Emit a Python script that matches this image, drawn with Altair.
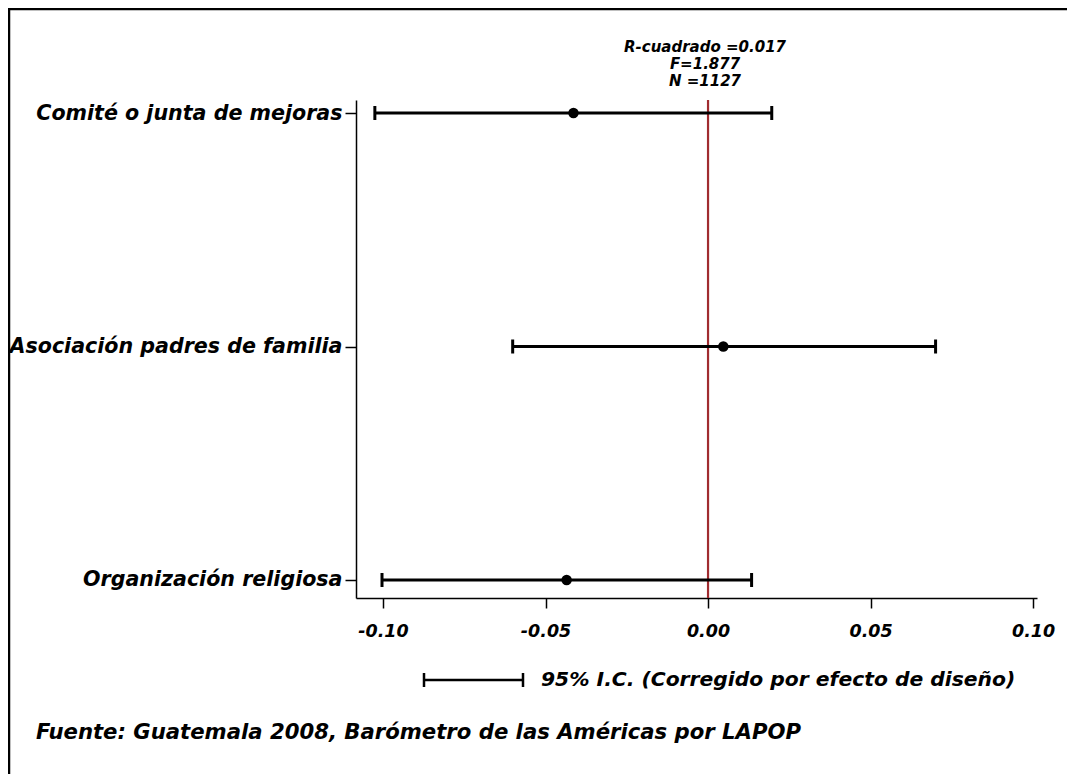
import altair as alt
import pandas as pd

# ---- data ----
categories = ["Comité o junta de mejoras", "Asociación padres de familia", "Organización religiosa"]
row_pos = [3, 2, 1]
coef = [-0.0414, 0.0047, -0.0435]
ci_low = [-0.1025, -0.0601, -0.1003]
ci_high = [0.0196, 0.0700, 0.0134]
x_ticks = [-0.10, -0.05, 0.00, 0.05, 0.10]
stats_lines = ["R-cuadrado =0.017", "F=1.877", "N =1127"]
legend_text = "95% I.C. (Corregido por efecto de diseño)"
source_text = "Fuente: Guatemala 2008, Barómetro de las Américas por LAPOP"

df = pd.DataFrame({"cat": categories, "pos": row_pos, "coef": coef, "lo": ci_low, "hi": ci_high})

FONT = "DejaVu Sans"
W, H = 681, 498
XDOM = [-0.1083, 0.1012]
YDOM = [0.9229, 3.0557]

label_expr = " : ".join(
    [f"datum.value == {p} ? '{c}'" for p, c in zip(row_pos, categories)]
) + " : ''"

xscale = alt.Scale(domain=XDOM, nice=False, zero=False)
yscale = alt.Scale(domain=YDOM, nice=False, zero=False)

xaxis = alt.Axis(
    values=x_ticks, title=None, grid=False,
    labelExpr="datum.value < 0 ? '-' + format(abs(datum.value), '.2f') : format(datum.value, '.2f')",
    labelFont=FONT, labelFontSize=17.5, labelFontWeight="bold", labelFontStyle="italic",
    labelColor="black", labelPadding=14, tickSize=10, tickColor="black", tickWidth=1.5,
    domainColor="black", domainWidth=1.5,
)
yaxis = alt.Axis(
    values=row_pos, title=None, grid=False, labelExpr=label_expr,
    labelFont=FONT, labelFontSize=20.6, labelFontWeight="bold", labelFontStyle="italic",
    labelColor="black", labelPadding=3, tickSize=11, tickColor="black", tickWidth=1.5,
    domainColor="black", domainWidth=1.5, labelBaseline="middle", labelLimit=400,
)

base = alt.Chart(df)

ci_line = base.mark_rule(color="black", strokeWidth=3).encode(
    x=alt.X("lo:Q", scale=xscale, axis=xaxis),
    x2="hi:Q",
    y=alt.Y("pos:Q", scale=yscale, axis=yaxis),
)
cap_lo = base.mark_tick(color="black", orient="vertical", size=14, thickness=3, opacity=1).encode(
    x=alt.X("lo:Q", scale=xscale), y=alt.Y("pos:Q", scale=yscale)
)
cap_hi = base.mark_tick(color="black", orient="vertical", size=14, thickness=3, opacity=1).encode(
    x=alt.X("hi:Q", scale=xscale), y=alt.Y("pos:Q", scale=yscale)
)
points = base.mark_circle(color="black", size=110, opacity=1).encode(
    x=alt.X("coef:Q", scale=xscale), y=alt.Y("pos:Q", scale=yscale)
)
zero_line = alt.Chart(pd.DataFrame({"z": [0.0]})).mark_rule(color="#a02c30", strokeWidth=2.2).encode(
    x=alt.X("z:Q", scale=xscale)
)

stats_df = pd.DataFrame({"t": ["\n".join(stats_lines)]})
stats = alt.Chart(stats_df).mark_text(
    font=FONT, fontSize=15, fontWeight="bold", fontStyle="italic", color="black",
    align="center", baseline="middle", lineBreak="\n", lineHeight=17, dx=-3
).encode(
    x=alt.value(352),
    y=alt.value(-53),
    text="t:N",
)

leg_df = pd.DataFrame({"t": [legend_text]})
leg_line = alt.Chart(leg_df).mark_rule(color="black", strokeWidth=2.5).encode(
    x=alt.value(68), x2=alt.value(167), y=alt.value(580)
)
leg_cap1 = alt.Chart(leg_df).mark_rule(color="black", strokeWidth=2.5).encode(
    x=alt.value(68), y=alt.value(573), y2=alt.value(587)
)
leg_cap2 = alt.Chart(leg_df).mark_rule(color="black", strokeWidth=2.5).encode(
    x=alt.value(167), y=alt.value(573), y2=alt.value(587)
)
leg_text = alt.Chart(leg_df).mark_text(
    font=FONT, fontSize=20.3, fontWeight="bold", fontStyle="italic", color="black",
    align="left", baseline="middle"
).encode(x=alt.value(185), y=alt.value(580), text="t:N")

src_df = pd.DataFrame({"t": [source_text]})
src_text = alt.Chart(src_df).mark_text(
    font=FONT, fontSize=21.2, fontWeight="bold", fontStyle="italic", color="black",
    align="left", baseline="middle"
).encode(x=alt.value(-320), y=alt.value(633), text="t:N")

frame_top = alt.Chart(src_df).mark_rule(color="black", strokeWidth=2.5).encode(
    x=alt.value(-348), x2=alt.value(W + 30), y=alt.value(-91)
)
frame_left = alt.Chart(src_df).mark_rule(color="black", strokeWidth=2.5).encode(
    x=alt.value(-347), y=alt.value(-92), y2=alt.value(H + 176)
)

chart = alt.layer(
    zero_line, ci_line, cap_lo, cap_hi, points, stats,
    leg_line, leg_cap1, leg_cap2, leg_text, src_text, frame_top, frame_left,
).properties(
    width=W, height=H,
    autosize=alt.AutoSizeParams(type="none"),
    padding={"left": 348, "top": 92, "right": 30, "bottom": 176},
    background="white",
).configure_view(strokeWidth=0)

chart.save("out.html", embed_options={"renderer": "svg", "actions": False})
